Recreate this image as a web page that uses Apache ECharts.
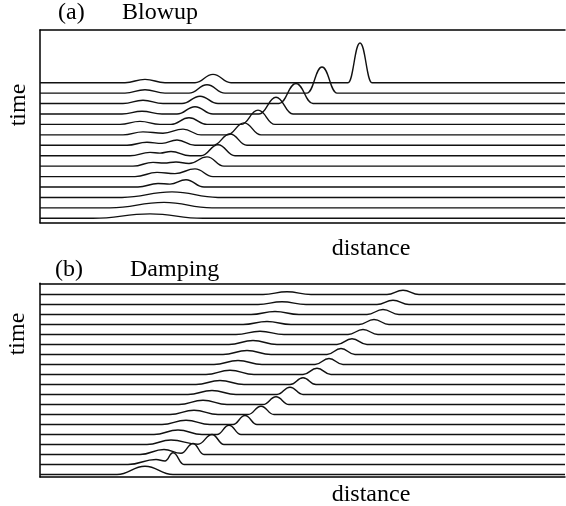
<!DOCTYPE html>
<html><head><meta charset="utf-8">
<script src="https://cdn.jsdelivr.net/npm/echarts@6/dist/echarts.min.js"></script>
<style>html,body{margin:0;padding:0;background:#fff}#c{width:566px;height:506px}</style>
</head><body><div id="c"></div>
<script>
// distance axis range (arbitrary units) and time offsets
const distanceRange = [0, 105];
const timeRangeA = [-0.42, 18.05];
const timeRangeB = [-0.25, 19.12];

// Panel (a) Blowup: keypoints [distance, displacement] per time step (bottom = t0)
const tracesA = [
  [[10.6,0],[22,0.43],[32.6,0]],
  [[14,0],[24.8,0.53],[34.4,0]],
  [[16.4,0],[26.4,0.53],[35.6,0]],
  [[19.6,0],[23.6,0.34],[26,0.28],[29.2,0.70],[32.8,0]],
  [[19,0],[23.4,0.40],[27,0.28],[31,0.74],[34.6,0]],
  [[18.6,0],[22.6,0.36],[24.8,0.30],[27.2,0.40],[29.8,0.25],[33.4,0.89],[36.8,0]],
  [[18,0],[22,0.32],[24,0.25],[26.2,0.41],[30,0],[32.2,0],[35.6,1.05],[39,0]],
  [[17.4,0],[21.4,0.29],[24.4,0.18],[27.4,0.51],[31,0],[34.6,0],[38,1.08],[41.4,0]],
  [[16.6,0],[20.6,0.29],[24.6,0.15],[28.6,0.55],[32.2,0],[37.4,0],[40.8,1.15],[44.2,0]],
  [[16,0],[20,0.29],[24,0],[26.2,0],[29.8,0.64],[33.4,0],[40.2,0],[43.6,1.37],[47,0]],
  [[16.4,0],[20.4,0.26],[24.4,0],[27.4,0],[31,0.70],[34.6,0],[43.8,0],[47.2,1.60],[50.6,0]],
  [[16.6,0],[20.6,0.32],[24.6,0],[28.4,0],[32,0.70],[35.6,0],[47.8,0],[51.2,1.92],[54.6,0]],
  [[17,0],[21,0.32],[25,0],[29.8,0],[33.4,0.80],[37,0],[53.4,0],[56.4,2.50],[59.4,0]],
  [[17,0],[21,0.32],[25,0],[31,0],[34.6,0.80],[38.2,0],[61.6,0],[64,3.81],[66.4,0]]
];

// Panel (b) Damping
const tracesB = [
  [[15.4,0],[21,0.83],[26.6,0]],
  [[17.6,0],[23.2,0.50],[25,0.35],[26.6,1.17],[28.8,0]],
  [[20,0],[24.8,0.50],[28.2,0.12],[30.6,1.10],[32.8,0]],
  [[21.4,0],[26.2,0.45],[31.6,0.03],[34.4,1.00],[36.8,0]],
  [[22.8,0],[27.6,0.45],[32.4,0],[35.4,0],[37.8,0.93],[40.2,0]],
  [[24.4,0],[29.2,0.43],[34,0],[38.6,0],[41,0.90],[43.4,0]],
  [[26,0],[30.8,0.43],[35.6,0],[41.6,0],[44.2,0.83],[46.8,0]],
  [[27.8,0],[32.6,0.43],[37.4,0],[44.6,0],[47.2,0.77],[49.8,0]],
  [[29.6,0],[34.4,0.40],[39.2,0],[47.4,0],[50,0.73],[52.6,0]],
  [[31.2,0],[36,0.40],[40.8,0],[50,0],[52.6,0.67],[55.2,0]],
  [[33.2,0],[38,0.43],[42.8,0],[52.6,0],[55.4,0.63],[58.2,0]],
  [[34.8,0],[39.6,0.40],[44.4,0],[55,0],[57.8,0.60],[60.6,0]],
  [[36.6,0],[41.4,0.40],[46.2,0],[57.4,0],[60.2,0.60],[63,0]],
  [[37.8,0],[42.6,0.40],[47.4,0],[59.4,0],[62.4,0.57],[65.4,0]],
  [[39.2,0],[44,0.33],[48.8,0],[61.6,0],[64.6,0.50],[67.6,0]],
  [[40.6,0],[45.4,0.30],[50.2,0],[63.8,0],[66.8,0.50],[69.8,0]],
  [[42.2,0],[47,0.30],[51.8,0],[65.4,0],[68.6,0.50],[71.8,0]],
  [[43.6,0],[48.4,0.27],[53.2,0],[67.4,0],[70.6,0.43],[73.8,0]],
  [[44.6,0],[49.4,0.27],[54.2,0],[69.4,0],[72.6,0.43],[75.8,0]]
];

const panelLabels = ['(a)', '(b)'];
const panelTitles = ['Blowup', 'Damping'];
const xName = 'distance';
const yName = 'time';

const FONT = 'Liberation Serif, Times New Roman, serif';
const lineColor = '#111';

function buildSeries(traces, axisIdx) {
  return traces.map((kp, t) => ({
    type: 'line',
    xAxisIndex: axisIdx * 2,
    yAxisIndex: axisIdx,
    symbol: 'none',
    smooth: 0.45,
    smoothMonotone: 'x',
    silent: true,
    lineStyle: { color: lineColor, width: 1.4 },
    data: [[distanceRange[0], t]].concat(kp.map(p => [p[0], t + p[1]])).concat([[distanceRange[1], t]])
  }));
}

const axisLine = { show: true, onZero: false, lineStyle: { color: '#000', width: 1.5 } };
function xAx(grid, pos) {
  return { type: 'value', gridIndex: grid, position: pos, min: distanceRange[0], max: distanceRange[1],
    axisLine: axisLine, axisTick: { show: false }, axisLabel: { show: false }, splitLine: { show: false } };
}
function yAx(grid, r) {
  return { type: 'value', gridIndex: grid, min: r[0], max: r[1],
    axisLine: axisLine, axisTick: { show: false }, axisLabel: { show: false }, splitLine: { show: false } };
}

function txt(s, x, y, align, rot) {
  return { type: 'text', x: x, y: y, rotation: rot || 0,
    style: { text: s, font: '24px ' + FONT, fill: '#000', align: align, verticalAlign: 'middle' } };
}

const chart = echarts.init(document.getElementById('c'), null, { renderer: 'canvas' });
chart.setOption({
  animation: false,
  grid: [
    { left: 40, right: 1, top: 30, height: 192.7 },
    { left: 40, right: 1, top: 283.3, height: 193.7 }
  ],
  xAxis: [xAx(0, 'bottom'), xAx(0, 'top'), xAx(1, 'bottom'), xAx(1, 'top')],
  yAxis: [yAx(0, timeRangeA), yAx(1, timeRangeB)],
  series: buildSeries(tracesA, 0).concat(buildSeries(tracesB, 1)),
  graphic: [
    txt(panelLabels[0], 58, 13, 'left'),
    txt(panelTitles[0], 122, 13, 'left'),
    txt(yName, 19, 105, 'center', Math.PI / 2),
    txt(xName, 371, 249, 'center'),
    txt(panelLabels[1], 55, 270, 'left'),
    txt(panelTitles[1], 130, 270, 'left'),
    txt(yName, 18, 334, 'center', Math.PI / 2),
    txt(xName, 371, 495, 'center')
  ]
});
</script></body></html>
